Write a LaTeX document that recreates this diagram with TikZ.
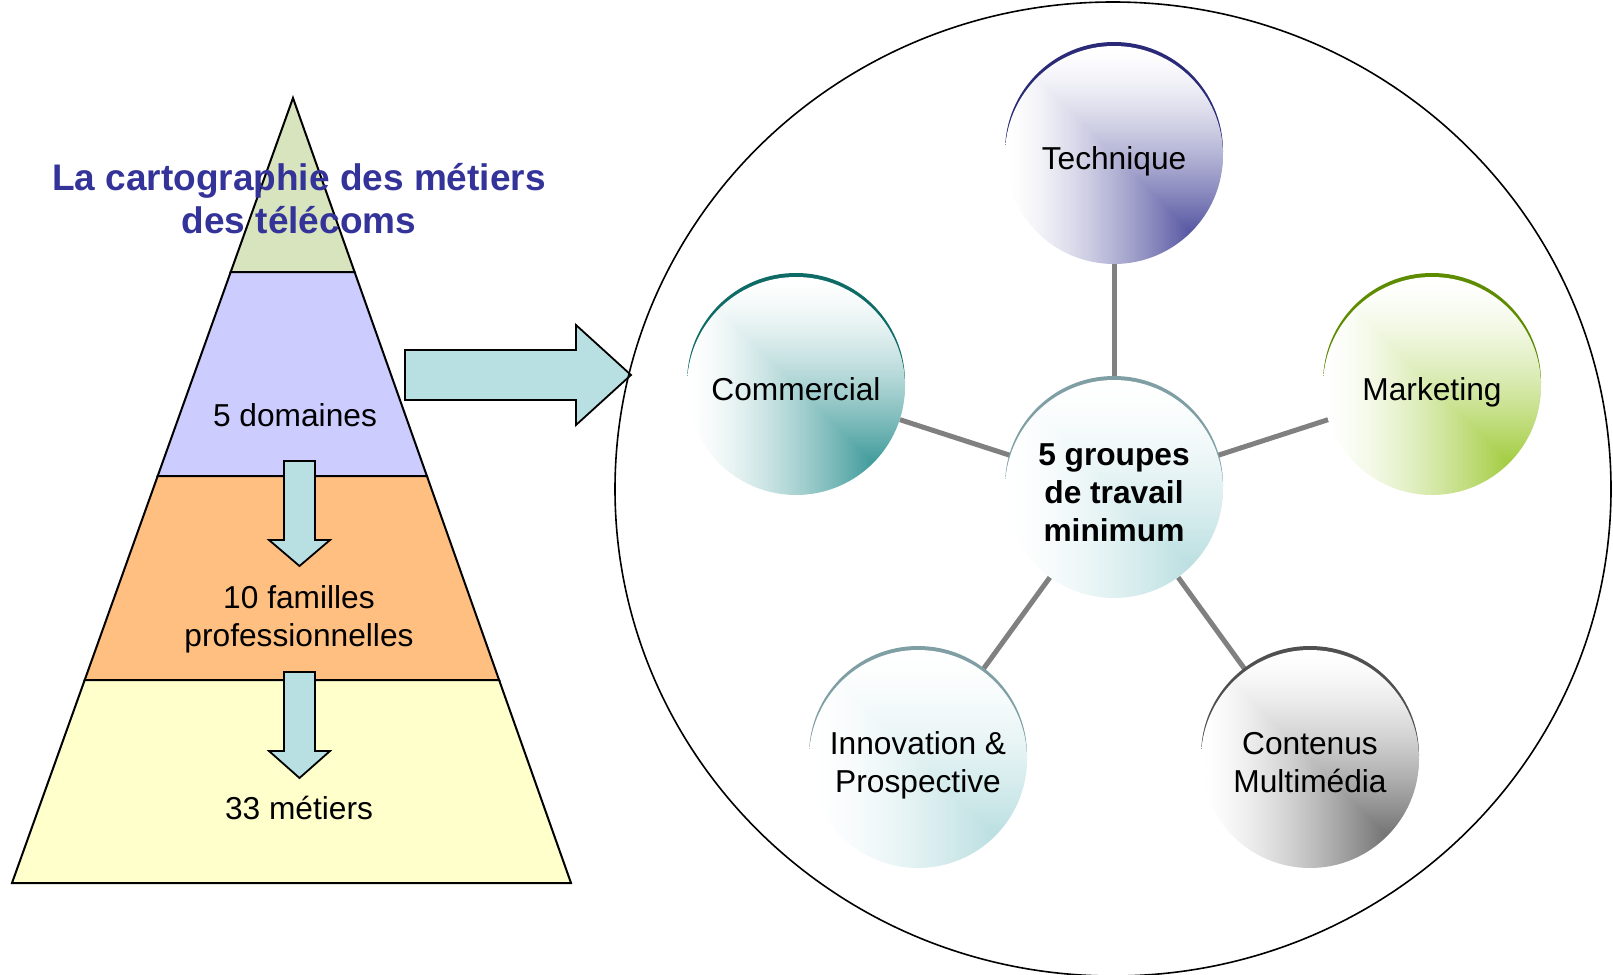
\documentclass[tikz,border=0pt]{standalone}
\usepackage{fontspec}
\setmainfont{Liberation Sans}
\usetikzlibrary{calc}
\pgfdeclarelayer{background}
\pgfsetlayers{background,main}
\newcommand\cornershade[4]{%
 \pgfdeclarefunctionalshading{#1}{\pgfpoint{-50bp}{-50bp}}{\pgfpoint{50bp}{50bp}}{}{
  25 exch sub 50 div exch 25 add 50 div 2 copy gt {exch} if pop
  dup 0 lt {pop 0} if dup 1 gt {pop 1} if
  1.5 exp
  dup 1 #2 sub mul 1 exch sub exch
  dup 1 #3 sub mul 1 exch sub exch
  1 #4 sub mul 1 exch sub
 }}
\cornershade{shTech}{0.16}{0.16}{0.54}
\cornershade{shComm}{0.05}{0.50}{0.50}
\cornershade{shMark}{0.54}{0.75}{0.05}
\cornershade{shCyan}{0.66}{0.84}{0.85}
\cornershade{shGray}{0.30}{0.30}{0.30}
\definecolor{crTech}{HTML}{2A2A78}
\definecolor{crComm}{HTML}{0F6B66}
\definecolor{crMark}{HTML}{5E8C00}
\definecolor{crCyan}{HTML}{7F9FA5}
\definecolor{crGray}{HTML}{505050}
\definecolor{pgreen}{HTML}{D7E4BD}
\definecolor{pblue}{HTML}{CCCCFF}
\definecolor{porange}{HTML}{FFBF80}
\definecolor{pyellow}{HTML}{FFFFCC}
\definecolor{arrowfill}{HTML}{B8DFE2}
\definecolor{titleblue}{HTML}{333399}
\definecolor{linkgray}{HTML}{808080}
\tikzset{
  band/.style={draw=black,line width=2pt,line join=miter},
  blockarrow/.style={draw=black,fill=arrowfill,line width=1.8pt,line join=miter},
  bub/.style={circle,minimum size=218pt,inner sep=0pt,shade},
  link/.style={draw=linkgray,line width=5pt},
  lbl/.style={align=center,font=\fontsize{31.7}{38}\selectfont,inner sep=0pt},
  bublbl/.style={lbl,text depth=0pt,yshift=-3.5pt}
}
\begin{document}
\begin{tikzpicture}[x=1pt,y=-1pt]
\useasboundingbox (0,0) rectangle (1613,974);
% pyramid
\coordinate (apex) at (293,98);
\coordinate (l1) at (230.7,272); \coordinate (r1) at (354.6,272);
\coordinate (l2) at (157.7,476); \coordinate (r2) at (426.9,476);
\coordinate (l3) at (84.7,680);  \coordinate (r3) at (499.1,680);
\coordinate (bl) at (12,883);    \coordinate (br) at (571,883);
\filldraw[band,fill=pgreen] (apex) -- (r1) -- (l1) -- cycle;
\filldraw[band,fill=pblue] (l1) -- (r1) -- (r2) -- (l2) -- cycle;
\filldraw[band,fill=porange] (l2) -- (r2) -- (r3) -- (l3) -- cycle;
\filldraw[band,fill=pyellow] (l3) -- (r3) -- (br) -- (bl) -- cycle;
% down arrows
\filldraw[blockarrow] (284,461) -- (315,461) -- (315,540) -- (330,540) -- (299.5,566) -- (269,540) -- (284,540) -- cycle;
\filldraw[blockarrow] (284,672) -- (315,672) -- (315,751) -- (330,751) -- (299.5,778) -- (269,751) -- (284,751) -- cycle;
% pyramid labels
\node[lbl] (dom) at (295,415) {5 domaines};
\node[lbl] (fam) at (299,619) {10 familles\\professionnelles};
\node[lbl] (met) at (299,808) {33 métiers};
\node[align=center,inner sep=0pt,text=titleblue,font=\fontsize{37}{43}\selectfont\bfseries] (title) at (299,199) {La cartographie des métiers\\des télécoms};
% right arrow
\filldraw[blockarrow] (405,350) -- (576,350) -- (576,325) -- (631,375) -- (576,425) -- (576,400) -- (405,400) -- cycle;
% big circle
\draw[line width=1.6pt] (1113,489) ellipse [x radius=498pt, y radius=487pt];
% crescents
\fill[crTech] (1114,151) circle (109pt);
\fill[crComm] (796,382) circle (109pt);
\fill[crMark] (1432,382) circle (109pt);
\fill[crCyan] (1114,485) circle (109pt);
\fill[crCyan] (918,755) circle (109pt);
\fill[crGray] (1310,755) circle (109pt);
% bubbles
\node[bub,shading=shTech] (tech) at (1114,155) {};
\node[bub,shading=shComm] (comm) at (796,386) {};
\node[bub,shading=shMark] (mark) at (1432,386) {};
\node[bub,shading=shCyan] (ctr) at (1114,489) {};
\node[bub,shading=shCyan] (inno) at (918,759) {};
\node[bub,shading=shGray] (cont) at (1310,759) {};
% bubble texts
\node[bublbl] (techT) at (tech.center) {Technique};
\node[bublbl] (commT) at (comm.center) {Commercial};
\node[bublbl] (markT) at (mark.center) {Marketing};
\node[bublbl,font=\fontsize{31.7}{38}\selectfont\bfseries] (ctrT) at (ctr.center) {5 groupes\\de travail\\minimum};
\node[bublbl] (innoT) at (inno.center) {Innovation \&\\Prospective};
\node[bublbl] (contT) at (cont.center) {Contenus\\Multimédia};
% links
\begin{pgfonlayer}{background}
\draw[link] (ctr) -- (tech);
\draw[link] (ctr) -- (comm);
\draw[link] (ctr) -- (mark);
\draw[link] (ctr) -- (inno);
\draw[link] (ctr) -- (cont);
\end{pgfonlayer}
\end{tikzpicture}
\end{document}
